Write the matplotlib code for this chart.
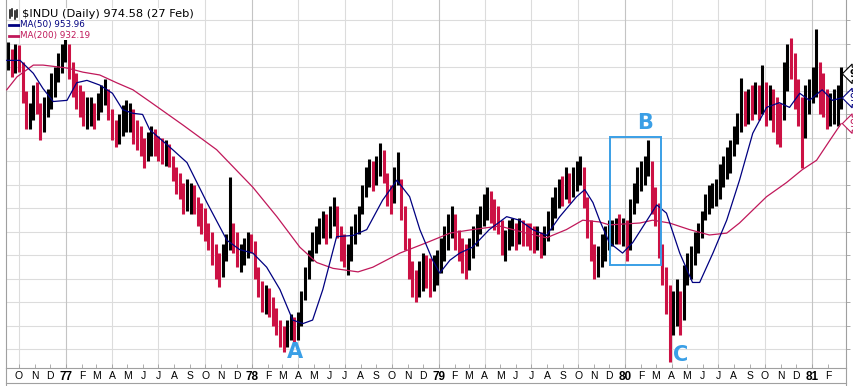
import datetime as dt
import matplotlib
matplotlib.use("Agg")
import matplotlib.pyplot as plt
import matplotlib.dates as mdates
from matplotlib.patches import Rectangle
from matplotlib.lines import Line2D

# ---------------- data (weekly bars) ----------------
first_week = "1976-09-10"
bar_high = [1002, 996, 1000, 999, 985, 960, 950, 965, 968, 950, 955, 962, 975, 980, 992, 1000, 1004,
            1000, 985, 975, 965, 960, 955, 955, 950, 958, 965, 970, 962, 945, 935, 940, 948, 952, 950,
            945, 935, 930, 920, 925, 930, 928, 922, 920, 918, 915, 905, 895, 890, 882, 885, 882, 880,
            870, 865, 860, 848, 840, 830, 822, 830, 838, 887, 848, 840, 830, 835, 840, 838,
            832, 810, 798, 795, 792, 785, 775, 765, 760, 765, 770, 768, 772, 790, 810, 825, 840, 845,
            852, 858, 855, 862, 870, 862, 845, 838, 830, 845, 855, 862, 880, 895, 902, 900, 905, 916,
            910, 890, 880, 895, 908, 885, 862, 835, 815, 808, 815, 822, 820, 818, 820, 825,
            835, 845, 855, 862, 855, 842, 835, 830, 835, 845, 855, 862, 872, 878, 875, 868, 862, 850,
            842, 850, 852, 848, 852, 850, 848, 848, 845, 845, 840, 845, 858, 870, 878, 885, 888, 895,
            890, 895, 900, 905, 895, 870, 850, 830, 828, 838, 845, 850, 850, 852, 855, 852,
            850, 868, 882, 895, 900, 905, 918, 900, 878, 865, 830, 810, 795, 790, 800, 790, 812, 822,
            828, 840, 848, 858, 872, 880, 882, 885, 898, 905, 912, 918, 930, 941, 971, 960, 962, 965,
            968, 965, 982, 968, 965, 962, 955, 950, 985, 1000, 1005, 992, 970, 955, 965, 970,
            980, 1013, 985, 975, 962, 958, 962, 965, 980]
bar_low = [978, 972, 975, 976, 950, 928, 928, 935, 940, 918, 925, 938, 945, 955, 968, 975, 985,
           970, 955, 945, 938, 930, 928, 930, 928, 935, 942, 948, 935, 918, 912, 915, 922, 925, 925,
           915, 910, 905, 894, 900, 905, 905, 900, 898, 896, 895, 883, 872, 868, 855, 858, 855, 855,
           845, 838, 832, 825, 812, 800, 793, 802, 815, 825, 822, 810, 806, 812, 818, 822,
           800, 785, 772, 770, 768, 760, 752, 742, 738, 742, 748, 745, 748, 760, 782, 800, 815, 822,
           830, 835, 830, 835, 845, 835, 815, 810, 803, 815, 830, 838, 855, 870, 878, 875, 880, 888,
           882, 862, 855, 865, 880, 850, 825, 800, 785, 780, 785, 790, 792, 785, 790, 795,
           805, 815, 825, 835, 825, 815, 805, 800, 808, 818, 828, 838, 845, 850, 848, 842, 838, 820,
           815, 825, 828, 825, 830, 828, 828, 825, 822, 825, 818, 820, 832, 842, 852, 860, 862, 868,
           865, 870, 875, 880, 860, 835, 815, 800, 802, 810, 815, 825, 828, 830, 830, 828,
           815, 825, 855, 865, 875, 880, 888, 855, 845, 818, 795, 770, 729, 752, 760, 752, 765, 795,
           800, 812, 822, 835, 850, 855, 860, 862, 868, 878, 885, 890, 905, 915, 925, 930, 932, 935,
           940, 935, 940, 930, 935, 925, 915, 912, 935, 960, 970, 945, 930, 894, 920, 940,
           950, 955, 940, 938, 928, 930, 932, 930, 945]
bar_close = [990, 985, 992, 980, 955, 935, 940, 960, 945, 930, 948, 955, 970, 975, 985, 995, 1000,
             975, 962, 955, 945, 940, 940, 942, 935, 952, 960, 962, 940, 925, 922, 935, 940, 940, 942,
             922, 920, 910, 905, 915, 920, 918, 910, 905, 910, 900, 888, 880, 875, 865, 870, 870, 862,
             850, 845, 842, 830, 820, 808, 800, 812, 830, 840, 835, 815, 818, 828, 832, 830,
             805, 790, 780, 785, 775, 768, 758, 750, 745, 755, 760, 755, 762, 785, 805, 818, 835, 840,
             845, 850, 840, 855, 860, 840, 825, 815, 820, 838, 848, 858, 875, 888, 890, 882, 895, 905,
             890, 870, 868, 890, 895, 858, 830, 810, 795, 792, 800, 810, 805, 800, 808, 812,
             830, 840, 848, 850, 835, 825, 815, 812, 825, 838, 848, 858, 865, 868, 860, 855, 850, 828,
             835, 840, 842, 838, 845, 842, 840, 838, 835, 838, 828, 840, 850, 862, 870, 878, 875, 880,
             875, 885, 888, 895, 865, 840, 825, 810, 815, 825, 835, 840, 842, 845, 840, 845,
             838, 860, 875, 888, 890, 898, 905, 865, 855, 825, 805, 780, 765, 775, 790, 765, 805, 810,
             815, 830, 840, 850, 865, 872, 875, 878, 890, 898, 905, 910, 925, 935, 950, 945, 955, 950,
             960, 950, 960, 945, 955, 940, 935, 930, 975, 990, 985, 960, 945, 925, 955, 960,
             970, 975, 950, 945, 940, 945, 950, 950, 974.58]

ma50_dates = ["1976-09-07", "1976-10-03", "1976-10-29", "1976-11-17", "1976-12-07", "1977-01-03",
              "1977-01-22", "1977-02-11", "1977-03-08", "1977-04-02", "1977-04-22", "1977-05-12",
              "1977-05-31", "1977-06-14", "1977-07-29", "1977-08-26", "1977-10-04", "1977-11-12",
              "1977-12-07", "1978-01-02", "1978-01-29", "1978-02-24", "1978-03-21", "1978-04-10",
              "1978-04-29", "1978-05-19", "1978-06-15", "1978-07-17", "1978-08-13", "1978-09-13",
              "1978-10-11", "1978-11-05", "1978-11-25", "1978-12-20", "1979-01-03", "1979-01-23",
              "1979-02-11", "1979-03-08", "1979-04-10", "1979-05-14", "1979-06-08", "1979-07-04",
              "1979-07-31", "1979-08-26", "1979-09-28", "1979-10-14", "1979-10-30", "1979-11-12",
              "1979-12-01", "1979-12-27", "1980-01-16", "1980-02-13", "1980-03-03", "1980-03-22",
              "1980-04-17", "1980-05-12", "1980-05-26", "1980-06-21", "1980-07-18", "1980-08-12",
              "1980-09-07", "1980-10-04", "1980-10-29", "1980-11-18", "1980-12-08", "1980-12-27",
              "1981-01-21", "1981-02-10", "1981-02-27"]
ma50_vals = [986, 986, 975, 962, 951, 952, 967, 969, 965, 958, 944, 941, 940, 927, 910, 899, 865,
             833, 825, 822, 810, 791, 765, 762, 765, 791, 836, 837, 842, 867, 884, 870, 842, 816,
             805, 816, 822, 827, 842, 853, 850, 842, 837, 853, 870, 876, 865, 850, 831, 822, 831,
             850, 863, 856, 822, 797, 797, 822, 850, 884, 924, 946, 950, 946, 958, 952, 961, 952,
             953.96]

ma200_dates = ["1976-09-07", "1976-09-27", "1976-10-29", "1976-11-17", "1977-01-03", "1977-02-03",
               "1977-03-08", "1977-04-10", "1977-05-12", "1977-06-14", "1977-08-18", "1977-10-23",
               "1978-01-02", "1978-02-18", "1978-04-04", "1978-05-07", "1978-06-08", "1978-07-27",
               "1978-08-25", "1978-10-17", "1978-12-09", "1979-01-23", "1979-03-08", "1979-04-30",
               "1979-06-22", "1979-07-31", "1979-09-08", "1979-10-10", "1979-11-12", "1979-12-01",
               "1980-01-30", "1980-02-24", "1980-03-28", "1980-05-06", "1980-06-14", "1980-07-18",
               "1980-08-12", "1980-10-04", "1980-11-12", "1980-12-13", "1981-01-10", "1981-02-05",
               "1981-02-27"]
ma200_vals = [961, 972, 982, 982, 979.5, 976, 973.6, 967, 961, 951, 931, 910, 878, 853, 827, 814,
              809, 806, 810, 822, 831, 839, 842, 845, 839, 835, 842, 850, 848.5, 846, 847.6, 850,
              847.6, 842, 837.4, 839, 847.6, 870, 882, 893, 901, 918, 932.19]

grid_levels = [740, 760, 780, 800, 820, 840, 860, 880, 900, 920, 940, 960, 980, 1000, 1020]
axis_labels = {1000: "1000", 1020: "1020"}
month_letters = ["J", "F", "M", "A", "M", "J", "J", "A", "S", "O", "N", "D"]
title_text = "$INDU (Daily) 974.58 (27 Feb)"
ma50_text = "MA(50) 953.96"
ma200_text = "MA(200) 932.19"
last_close, last_ma50, last_ma200 = 974.58, 953.96, 932.19

# annotations (letters and box)
notes = [("A", "1978-03-25", 737.8), ("B", "1980-02-09", 932.8), ("C", "1980-04-19", 735.3)]
box_start, box_end, box_low, box_high = "1979-12-03", "1980-03-11", 812.0, 920.8

# ---------------- figure ----------------
W, H = 854, 386
fig = plt.figure(figsize=(W / 100, H / 100), dpi=100)
fig.patch.set_facecolor("white")
L, R, B, T = 6, 846, 368, 0
ax = fig.add_axes([L / W, 1 - B / H, (R - L) / W, (B - T) / H])

base = mdates.date2num(dt.datetime(1977, 1, 1))
ax.set_xlim(base - 117.5, base + 1527.6)
ax.set_ylim(724.2, 1037.4)

RED = "#cc1144"
NAVY = "#000080"
CRIMSON = "#c0185a"
BLUE = "#3a9fe6"

start = dt.datetime.strptime(first_week, "%Y-%m-%d")
dates = [mdates.date2num(start + dt.timedelta(days=7 * k)) for k in range(len(bar_high))]
cols = []
prev = None
for c in bar_close:
    cols.append("black" if (prev is None or c >= prev) else RED)
    prev = c

# grid
for v in grid_levels:
    ax.axhline(v, color="#dcdcdc", lw=0.8, zorder=0)
mstarts = []
y, m = 1976, 10
while (y, m) <= (1981, 2):
    mstarts.append(dt.datetime(y, m, 1))
    m += 1
    if m > 12:
        m = 1
        y += 1
for d in mstarts:
    if d.month in (1, 4, 7, 10):
        ax.axvline(mdates.date2num(d), color="#c4c4c4" if d.month == 1 else "#dcdcdc",
                   lw=0.8, zorder=0)

ax.vlines(dates, bar_low, bar_high, colors=cols, lw=2.2, zorder=2)

ma50_x = [mdates.date2num(dt.datetime.strptime(s, "%Y-%m-%d")) for s in ma50_dates]
ma200_x = [mdates.date2num(dt.datetime.strptime(s, "%Y-%m-%d")) for s in ma200_dates]
ax.plot(ma200_x, ma200_vals, color=CRIMSON, lw=0.9, zorder=3)
ax.plot(ma50_x, ma50_vals, color=NAVY, lw=0.9, zorder=4)

# annotation box and letters
bx0 = mdates.date2num(dt.datetime.strptime(box_start, "%Y-%m-%d"))
bx1 = mdates.date2num(dt.datetime.strptime(box_end, "%Y-%m-%d"))
ax.add_patch(Rectangle((bx0, box_low), bx1 - bx0, box_high - box_low, fill=False,
                       ec=BLUE, lw=1.4, zorder=5))
for lab, d, v in notes:
    ax.text(mdates.date2num(dt.datetime.strptime(d, "%Y-%m-%d")), v, lab, color=BLUE,
            fontsize=15, fontweight="bold", ha="center", va="center", zorder=6,
            family="DejaVu Sans")

# axes styling
for s in ["left", "right", "bottom"]:
    ax.spines[s].set_color("#a0a0a0")
    ax.spines[s].set_linewidth(0.8)
ax.spines["top"].set_visible(False)

ax.set_xticks([mdates.date2num(d) for d in mstarts])
labels = [("%02d" % (d.year % 100)) if d.month == 1 else month_letters[d.month - 1] for d in mstarts]
ax.set_xticklabels(labels)
ax.tick_params(axis="x", length=3, width=0.6, color="#a0a0a0", pad=2, labelsize=7.5,
               direction="in")
for t, d in zip(ax.get_xticklabels(), mstarts):
    t.set_family("Liberation Sans")
    if d.month == 1:
        t.set_fontweight("bold")
        t.set_fontsize(8.5)

ax.yaxis.tick_right()
ax.set_yticks(grid_levels)
ax.set_yticklabels([axis_labels.get(v, "") for v in grid_levels])
ax.tick_params(axis="y", length=3, width=0.6, color="#a0a0a0", pad=1.5, labelsize=7.5)
for t in ax.get_yticklabels():
    t.set_family("DejaVu Sans")

# price tags on the right
tr = ax.get_yaxis_transform()
for val, col in [(last_close, "black"), (last_ma50, NAVY), (last_ma200, CRIMSON)]:
    ax.text(1.004, val, "%.2f" % val, transform=tr, ha="left", va="center", fontsize=7.5,
            color=col, fontweight="bold" if col == "black" else "normal", clip_on=False,
            bbox=dict(boxstyle="larrow,pad=0.15", fc="white", ec=col, lw=0.8), zorder=7)

# legend text block at top-left
def fy(py):
    return 1 - py / H

fig.text(22 / W, fy(14), title_text, fontsize=8.2, color="black", va="center", ha="left",
         family="DejaVu Sans", bbox=dict(fc="white", ec="none", pad=0.6))
fig.text(20 / W, fy(25), ma50_text, fontsize=6.3, color=NAVY, va="center", ha="left",
         family="DejaVu Sans", bbox=dict(fc="white", ec="none", pad=0.3))
fig.text(20 / W, fy(35.5), ma200_text, fontsize=6.3, color=CRIMSON, va="center", ha="left",
         family="DejaVu Sans", bbox=dict(fc="white", ec="none", pad=0.3))
fig.add_artist(Line2D([9 / W, 19 / W], [fy(25), fy(25)], color=NAVY, lw=2))
fig.add_artist(Line2D([9 / W, 19 / W], [fy(35.5), fy(35.5)], color=CRIMSON, lw=2))
# small OHLC icon
for i, (a, b) in enumerate([(10, 18), (9, 16), (11, 19), (10, 17)]):
    xx = (10 + 2.3 * i) / W
    fig.add_artist(Line2D([xx, xx], [fy(b), fy(a)], color="black", lw=1.1))

# lower frame below the date axis
fig.add_artist(Line2D([L / W, R / W], [fy(383), fy(383)], color="#a0a0a0", lw=0.8))
fig.add_artist(Line2D([L / W, L / W], [fy(368), fy(386)], color="#a0a0a0", lw=0.8))
fig.add_artist(Line2D([R / W, R / W], [fy(368), fy(386)], color="#a0a0a0", lw=0.8))

fig.savefig("out.png", dpi=100)
